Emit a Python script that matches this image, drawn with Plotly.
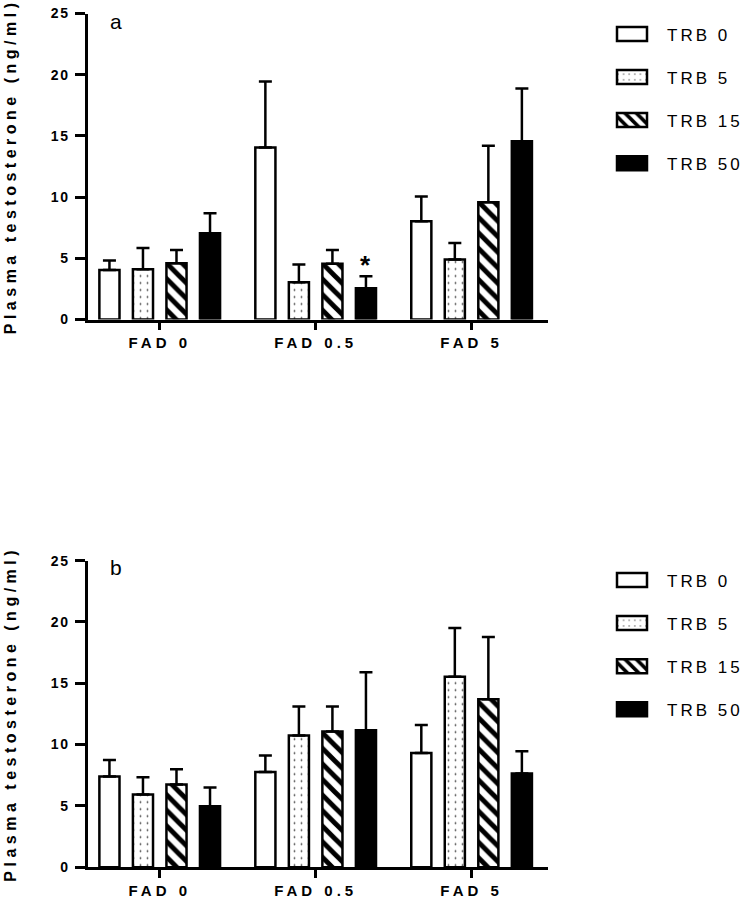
import plotly.graph_objects as go

categories = ["FAD 0", "FAD 0.5", "FAD 5"]
series_names = ["TRB 0", "TRB 5", "TRB 15", "TRB 50"]

# Panel a: means and upper SEM
a_trb0 = [4.05, 14.05, 8.03]
a_trb5 = [4.1, 3.05, 4.9]
a_trb15 = [4.6, 4.55, 9.59]
a_trb50 = [7.05, 2.55, 14.57]
a_err_trb0 = [0.77, 5.39, 2.02]
a_err_trb5 = [1.75, 1.44, 1.36]
a_err_trb15 = [1.09, 1.14, 4.61]
a_err_trb50 = [1.64, 0.99, 4.3]

# Panel b
b_trb0 = [7.39, 7.77, 9.32]
b_trb5 = [5.92, 10.73, 15.54]
b_trb15 = [6.74, 11.06, 13.7]
b_trb50 = [4.97, 11.17, 7.64]
b_err_trb0 = [1.36, 1.33, 2.28]
b_err_trb5 = [1.42, 2.37, 3.96]
b_err_trb15 = [1.25, 2.04, 5.08]
b_err_trb50 = [1.52, 4.73, 1.82]

y_ticks = [0, 5, 10, 15, 20, 25]
y_title = "Plasma testosterone (ng/ml)"

FONT = "Arial, 'Liberation Sans', sans-serif"
BARGAP = 0.14
BARGROUPGAP = 0.40

patterns = [
    dict(shape="", fillmode="replace"),
    dict(shape=".", fgcolor="#444444", bgcolor="white", size=7, solidity=0.05, fillmode="replace"),
    dict(shape="\\", fgcolor="black", bgcolor="white", size=11, solidity=0.45, fillmode="replace"),
    dict(shape="", fillmode="replace"),
]
fills = ["white", "white", "white", "black"]

fig = go.Figure()

panels = [
    ("x", "y", "legend", [a_trb0, a_trb5, a_trb15, a_trb50],
     [a_err_trb0, a_err_trb5, a_err_trb15, a_err_trb50]),
    ("x2", "y2", "legend2", [b_trb0, b_trb5, b_trb15, b_trb50],
     [b_err_trb0, b_err_trb5, b_err_trb15, b_err_trb50]),
]

for xa, ya, leg, vals, errs in panels:
    for i, name in enumerate(series_names):
        fig.add_trace(go.Bar(
            x=categories, y=vals[i], name=name,
            xaxis=xa, yaxis=ya, legend=leg, legendgroup=leg + name,
            marker=dict(color=fills[i], pattern=patterns[i],
                        line=dict(color="black", width=2.5)),
            error_y=dict(type="data", array=errs[i], arrayminus=[0] * len(errs[i]),
                         symmetric=False, color="black", thickness=2.5, width=6.5),
        ))

W, H = 747, 900


def fy(ref_y):
    """paper fraction for a target vertical pixel in the final picture"""
    return 1 - ((ref_y - 7.5) / 0.982) / H


x_dom = [88 / W, 548 / W]
top_dom = [fy(319), fy(13)]
bot_dom = [fy(866.5), fy(560)]

xaxis_common = dict(
    range=[-0.46, 2.49], showline=True, linecolor="black", linewidth=2.5,
    ticks="outside", ticklen=8, tickwidth=2.5, tickcolor="black",
    tickfont=dict(family=FONT, size=15, color="black", weight="bold"),
    showgrid=False, zeroline=False, domain=x_dom, fixedrange=True,
)
yaxis_common = dict(
    range=[0, 25], tickvals=y_ticks, showline=True, linecolor="black", linewidth=2.5,
    ticks="outside", ticklen=10, tickwidth=2.5, tickcolor="black", ticklabelstandoff=3,
    tickfont=dict(family=FONT, size=14, color="black", weight="bold"),
    showgrid=False, zeroline=False, fixedrange=True,
)

legend_common = dict(xanchor="left", yanchor="top", traceorder="grouped",
                     tracegroupgap=18, itemwidth=60,
                     font=dict(family=FONT, size=17, color="black"),
                     bgcolor="rgba(0,0,0,0)")

fig.update_layout(
    width=W, height=H, margin=dict(l=0, r=0, t=0, b=0),
    paper_bgcolor="white", plot_bgcolor="white",
    barmode="group", bargap=BARGAP, bargroupgap=BARGROUPGAP,
    showlegend=True,
    xaxis=dict(xaxis_common, anchor="y"),
    yaxis=dict(yaxis_common, domain=top_dom, anchor="x"),
    xaxis2=dict(xaxis_common, anchor="y2"),
    yaxis2=dict(yaxis_common, domain=bot_dom, anchor="x2"),
    legend=dict(legend_common, x=597 / W, y=1 - 8.5 / H),
    legend2=dict(legend_common, x=597 / W, y=1 - 564.5 / H),
)

annotations = []
for dom, letter, ly in [(top_dom, "a", 21), (bot_dom, "b", 567)]:
    annotations.append(dict(
        text=y_title, textangle=-90, xref="paper", yref="paper",
        x=11 / W, y=(dom[0] + dom[1]) / 2, xanchor="center", yanchor="middle",
        showarrow=False, font=dict(family=FONT, size=16, color="black", weight="bold")))
    annotations.append(dict(
        text=letter, xref="paper", yref="paper", x=116 / W, y=fy(ly),
        xanchor="center", yanchor="middle", showarrow=False,
        font=dict(family=FONT, size=21, color="black")))

# significance star above FAD 0.5 / TRB 50 in panel a
slot = (1 - BARGAP) / len(series_names)
star_x = categories.index("FAD 0.5") + (3 - (len(series_names) - 1) / 2) * slot
star_y = a_trb50[1] + a_err_trb50[1]
annotations.append(dict(
    text="*", xref="x", yref="y", x=star_x, y=star_y, xanchor="center", yanchor="bottom",
    yshift=-6, showarrow=False, font=dict(family=FONT, size=26, color="black", weight="bold")))
fig.update_layout(annotations=annotations)

post = """
(function(){
var gd = document.getElementById('{plot_id}');
try {
  var st = document.createElement('style');
  st.textContent =
    'html,body{margin:0 !important;padding:0 !important;overflow:hidden !important;}' +
    '.plotly-graph-div{position:fixed !important;left:0 !important;top:0 !important;}' +
    '.xtick text, .x2tick text{letter-spacing:4px !important;}' +
    '.ytick text, .y2tick text{letter-spacing:1.5px !important;}' +
    'text.legendtext, .legend text, .legend2 text, g.traces text, .scrollbox text{letter-spacing:3px !important;}' +
    '.annotation[data-index="0"] text, .annotation[data-index="2"] text{letter-spacing:4.5px !important;}';
  document.head.appendChild(st);
} catch(e) {}
function apply(){
  try {
    function sp(sel, v){ document.querySelectorAll(sel).forEach(function(t){
      if (t.style.letterSpacing !== v) { t.style.letterSpacing = v; } }); }
    sp('.xtick text, .x2tick text', '4px');
    sp('.ytick text, .y2tick text', '1.5px');
    sp('.legendtext, .legend text, .legend2 text, g.traces text', '3px');
    document.querySelectorAll('.annotation-text').forEach(function(t){
      if (t.textContent.length > 5 && t.style.letterSpacing !== '4.5px') { t.style.letterSpacing = '4.5px'; }
    });
    document.querySelectorAll('.scrollbox').forEach(function(e){
      if (e.hasAttribute('clip-path')) { e.removeAttribute('clip-path'); } });
    document.querySelectorAll('.legendpoints path').forEach(function(p){
      if (p.getAttribute('d') !== 'M15,7H-15V-7H15Z') { p.setAttribute('d', 'M15,7H-15V-7H15Z'); }
    });
  } catch(e) {}
}
apply();
try {
  var mo = new MutationObserver(function(){ apply(); });
  mo.observe(document.body, {childList: true, subtree: true});
} catch(e) {}
if (gd.on) { gd.on('plotly_afterplot', apply); }
setTimeout(apply, 0);
setTimeout(apply, 50);
setTimeout(apply, 300);
})();
"""

fig.write_html("out.html", post_script=post, config={"displayModeBar": False})
